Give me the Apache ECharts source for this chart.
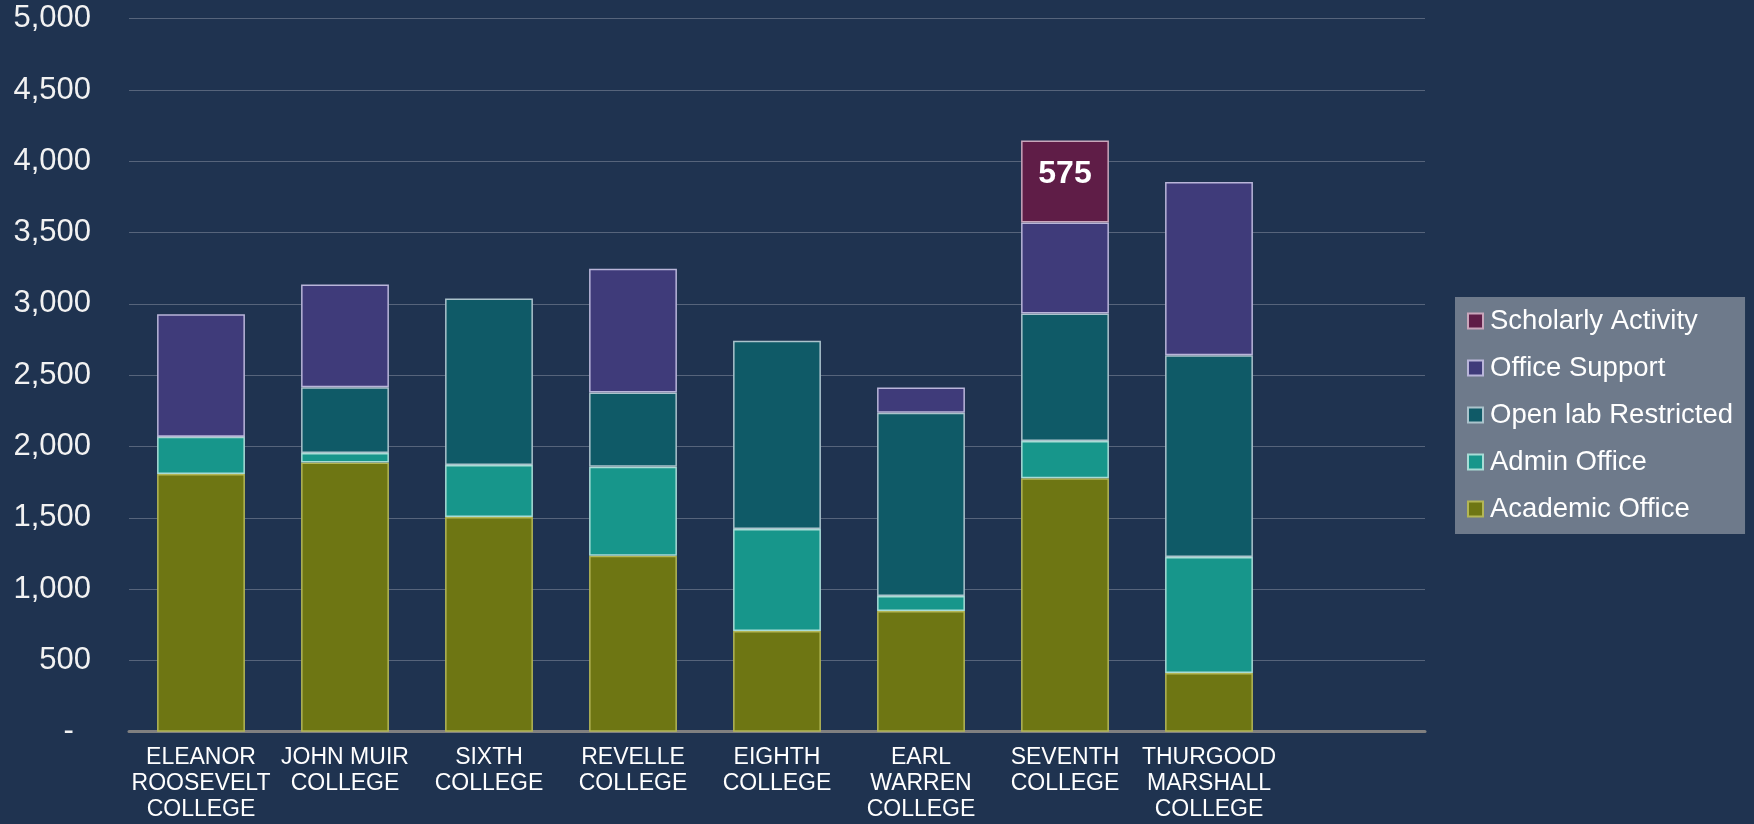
<!DOCTYPE html>
<html lang="en">
<head>
    <meta charset="UTF-8">
    <title>Space by College</title>
    <script src="https://cdn.jsdelivr.net/npm/echarts@6.0.0/dist/echarts.min.js"></script>
    <style>
        html, body {
            margin: 0;
            padding: 0;
            background-color: #1f3350;
        }
        #chart {
            width: 1754px;
            height: 824px;
        }
    </style>
</head>
<body>
    <div id="chart"></div>

    <script>
        // Categories (last one is an empty slot, as in the original)
        const colleges = [
            'ELEANOR\nROOSEVELT\nCOLLEGE',
            'JOHN MUIR\nCOLLEGE',
            'SIXTH\nCOLLEGE',
            'REVELLE\nCOLLEGE',
            'EIGHTH\nCOLLEGE',
            'EARL\nWARREN\nCOLLEGE',
            'SEVENTH\nCOLLEGE',
            'THURGOOD\nMARSHALL\nCOLLEGE',
            ''
        ];

        // Values per space type
        const academicOffice    = [1808, 1888, 1505, 1234, 706, 846, 1778, 411];
        const adminOffice       = [260, 66, 365, 624, 716, 105, 260, 814];
        const openLabRestricted = [0, 462, 1168, 521, 1319, 1285, 895, 1415];
        const officeSupport     = [860, 720, null, 867, null, 178, 638, 1215];
        const scholarlyActivity = [null, null, null, null, null, null, 575, null];

        const yTicks = { min: 0, max: 5000, interval: 500 };

        const FONT = "'Liberation Sans', Arial, sans-serif";

        function makeSeries(name, data, fill, border) {
            return {
                name: name,
                type: 'bar',
                stack: 'total',
                data: data,
                barCategoryGap: '39%',
                itemStyle: {
                    color: fill,
                    borderColor: border,
                    borderWidth: 1.5
                },
                emphasis: { disabled: true }
            };
        }

        const chart = echarts.init(document.getElementById('chart'));

        const scholarly = makeSeries('Scholarly Activity', scholarlyActivity, '#5f1d47', '#c9a6bb');
        scholarly.label = {
            show: true,
            position: 'insideTop',
            distance: 18,
            color: '#ffffff',
            fontFamily: FONT,
            fontWeight: 'bold',
            fontSize: 32
        };

        chart.setOption({
            backgroundColor: '#1f3350',
            animation: false,
            grid: {
                left: 129,
                right: 329,
                top: 18.7,
                bottom: 92.3
            },
            legend: {
                orient: 'vertical',
                left: 1455,
                top: 297,
                data: ['Scholarly Activity', 'Office Support', 'Open lab Restricted', 'Admin Office', 'Academic Office'],
                backgroundColor: '#6e7a8b',
                padding: [10, 12, 11, 12],
                itemGap: 19,
                itemWidth: 15,
                itemHeight: 15,
                icon: 'rect',
                textStyle: {
                    color: '#ffffff',
                    fontFamily: FONT,
                    fontSize: 27.5,
                    lineHeight: 28,
                    padding: [0, 0, 0, 2]
                }
            },
            xAxis: {
                type: 'category',
                data: colleges,
                axisLine: { lineStyle: { color: '#808080', width: 3 } },
                axisTick: { show: false },
                axisLabel: {
                    color: '#ffffff',
                    fontFamily: FONT,
                    fontSize: 23,
                    lineHeight: 26,
                    margin: 13,
                    interval: 0
                }
            },
            yAxis: {
                type: 'value',
                min: yTicks.min,
                max: yTicks.max,
                interval: yTicks.interval,
                axisLine: { show: false },
                axisTick: { show: false },
                splitLine: { lineStyle: { color: '#56647b', width: 1.2 } },
                axisLabel: {
                    color: '#f2f2f2',
                    fontFamily: FONT,
                    fontSize: 31,
                    margin: 38,
                    padding: [6, 0, 0, 0],
                    formatter: v => v === 0 ? '-  ' : v.toLocaleString('en-US')
                }
            },
            series: [
                makeSeries('Academic Office', academicOffice, '#6e7613', '#b3b655'),
                makeSeries('Admin Office', adminOffice, '#17968b', '#a8dcd6'),
                makeSeries('Open lab Restricted', openLabRestricted, '#0f5a67', '#abc3cc'),
                makeSeries('Office Support', officeSupport, '#3f3b7a', '#b9b5d9'),
                scholarly
            ]
        });
    </script>
</body>
</html>
